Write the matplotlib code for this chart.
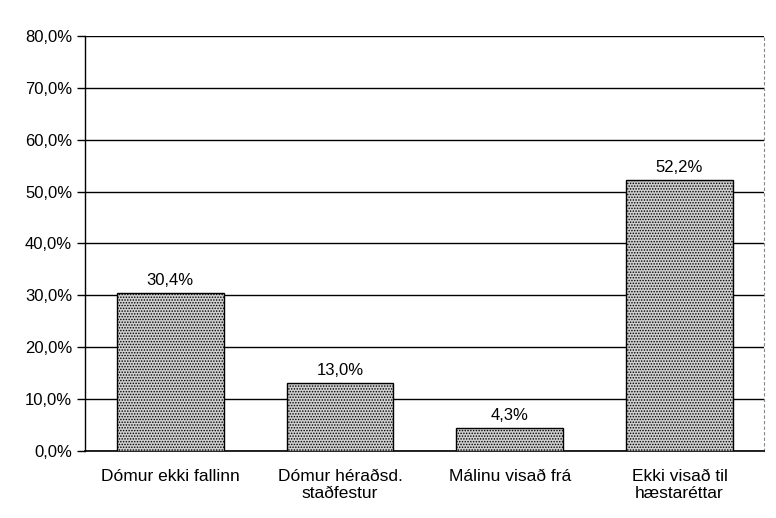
import numpy as np
import matplotlib
matplotlib.use('Agg')
import matplotlib.pyplot as plt

plt.rcParams['font.family'] = ['Liberation Sans', 'DejaVu Sans']
plt.rcParams['hatch.color'] = '#444444'
plt.rcParams['hatch.linewidth'] = 0.7

categories = ['Dómur ekki fallinn', 'Dómur héraðsd.\nstaðfestur', 'Málinu visað frá', 'Ekki visað til\nhæstaréttar']
values = [30.4, 13.0, 4.3, 52.2]
value_labels = ['30,4%', '13,0%', '4,3%', '52,2%']
yticks = np.arange(0, 81, 10)
ytick_labels = [('%.1f%%' % t).replace('.', ',') for t in yticks]

fig = plt.figure(figsize=(7.76, 5.18), dpi=100)
ax = fig.add_axes([0.11, 0.13, 0.875, 0.80])

x = np.arange(len(categories))
ax.bar(x, values, width=0.63, facecolor='#cfcfcf', edgecolor='black',
       linewidth=1.0, hatch='......', zorder=3)

for xi, v, lab in zip(x, values, value_labels):
    ax.text(xi, v + 1.0, lab, ha='center', va='bottom', fontsize=12)

ax.set_ylim(0, 80)
ax.set_xlim(-0.5, 3.5)
ax.set_yticks(yticks)
ax.set_yticklabels(ytick_labels, fontsize=12)
ax.yaxis.grid(True, color='black', linewidth=1.0, zorder=0)
ax.set_xticks(x)
ax.set_xticklabels(categories, fontsize=12.5)
ax.tick_params(axis='x', length=0, pad=13)
ax.tick_params(axis='y', length=6, direction='out', width=1.0)

ax.spines['top'].set_visible(False)
ax.spines['right'].set_linestyle((0, (2, 3)))
ax.spines['right'].set_color('#888888')
ax.spines['left'].set_linewidth(1.0)
ax.spines['bottom'].set_linewidth(1.2)

plt.savefig('out.png', dpi=100)
